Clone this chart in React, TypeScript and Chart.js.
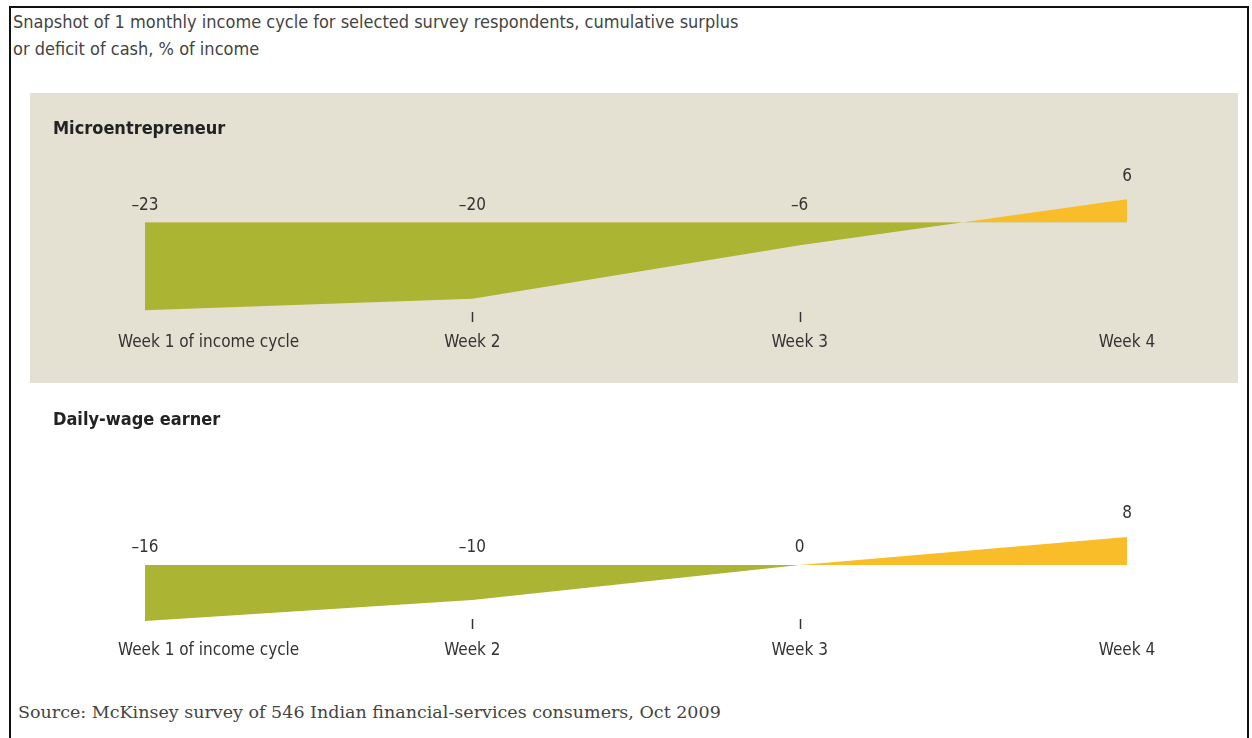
import React, { useEffect, useRef } from "react";
import { Chart, registerables } from "chart.js";

Chart.register(...registerables);

const weeks = ["Week 1 of income cycle", "Week 2", "Week 3", "Week 4"];
const microValues = [-23, -20, -6, 6];
const dailyValues = [-16, -10, 0, 8];
const tickedWeeks = [1, 2];

const surplusColor = "#fabd2a";
const deficitColor = "#acb434";
const panelColor = "#e4e0d2";
const NARROW = '"Liberation Sans Narrow", "DejaVu Sans Condensed", "Liberation Sans", sans-serif';

const annotPlugin = {
  id: "annot",
  afterDatasetsDraw(chart: any, _args: any, opts: any) {
    const ctx = chart.ctx as CanvasRenderingContext2D;
    const xs = chart.scales.x;
    const ys = chart.scales.y;
    const data = chart.data.datasets[0].data as number[];
    const zero = ys.getPixelForValue(0);
    ctx.save();
    ctx.fillStyle = "#333";
    ctx.font = `17px ${NARROW}`;
    ctx.textBaseline = "middle";
    ctx.textAlign = "center";
    data.forEach((v, i) => {
      const px = xs.getPixelForValue(i);
      const py = v > 0 ? ys.getPixelForValue(v) - opts.posGap : zero - opts.negGap;
      ctx.fillText(v < 0 ? "\u2013" + Math.abs(v) : String(v), px, py);
    });
    ctx.strokeStyle = "#333";
    ctx.lineWidth = 1.5;
    (opts.ticks as number[]).forEach((i) => {
      const px = Math.round(xs.getPixelForValue(i)) + 0.5;
      ctx.beginPath();
      ctx.moveTo(px, opts.tickY);
      ctx.lineTo(px, opts.tickY + 10);
      ctx.stroke();
    });
    (chart.data.labels as string[]).forEach((l, i) => {
      const px = xs.getPixelForValue(i);
      if (i === 0) {
        ctx.textAlign = "left";
        ctx.fillText(l, px - 27, opts.labelY);
      } else {
        ctx.textAlign = "center";
        ctx.fillText(l, px, opts.labelY);
      }
    });
    ctx.restore();
  },
};

function Panel(props: {
  values: number[];
  min: number;
  max: number;
  padTop: number;
  padBottom: number;
  tickY: number;
  labelY: number;
}) {
  const ref = useRef<HTMLCanvasElement>(null);
  useEffect(() => {
    if (!ref.current) return;
    const chart = new Chart(ref.current, {
      type: "line",
      data: {
        labels: weeks,
        datasets: [
          {
            data: props.values,
            fill: { target: "origin", above: surplusColor, below: deficitColor },
            borderWidth: 0,
            borderColor: "rgba(0,0,0,0)",
            pointRadius: 0,
            tension: 0,
          } as any,
        ],
      },
      options: {
        animation: false,
        responsive: false,
        events: [],
        layout: { padding: { left: 115, right: 111, top: props.padTop, bottom: props.padBottom } },
        scales: {
          x: { display: false, offset: false },
          y: { display: false, min: props.min, max: props.max },
        },
        plugins: {
          legend: { display: false },
          tooltip: { enabled: false },
          annot: { posGap: 23, negGap: 17, ticks: tickedWeeks, tickY: props.tickY, labelY: props.labelY },
        } as any,
      },
      plugins: [annotPlugin],
    });
    return () => chart.destroy();
  }, []);
  return <canvas ref={ref} width={1208} height={290} style={{ display: "block", width: 1208, height: 290 }} />;
}

export default function App() {
  return (
    <div style={{ position: "absolute", left: 0, top: 0, width: 1252, height: 738, background: "#fff", overflow: "hidden" }}>
      <div
        style={{
          position: "absolute",
          left: 9,
          top: 6,
          width: 1236,
          height: 760,
          borderLeft: "2px solid #111",
          borderTop: "2px solid #111",
          borderRight: "2px solid #111",
        }}
      />
      <div
        style={{
          position: "absolute",
          left: 13,
          top: 8,
          font: `18px ${NARROW}`,
          color: "#444",
          lineHeight: "27px",
          whiteSpace: "nowrap",
        }}
      >
        Snapshot of 1 monthly income cycle for selected survey respondents, cumulative surplus
        <br />
        or deficit of cash, % of income
      </div>
      <div style={{ position: "absolute", left: 30, top: 93, width: 1208, height: 290, background: panelColor }}>
        <Panel values={microValues} min={-30} max={10} padTop={91} padBottom={46} tickY={219} labelY={250} />
      </div>
      <div style={{ position: "absolute", left: 30, top: 390, width: 1208, height: 290 }}>
        <Panel values={dailyValues} min={-20} max={12} padTop={133} padBottom={45} tickY={229} labelY={261} />
      </div>
      <div style={{ position: "absolute", left: 53, top: 117, font: `bold 18px ${NARROW}`, color: "#222" }}>
        Microentrepreneur
      </div>
      <div style={{ position: "absolute", left: 53, top: 408, font: `bold 18px ${NARROW}`, color: "#222" }}>
        Daily-wage earner
      </div>
      <div
        style={{
          position: "absolute",
          left: 18,
          top: 702,
          font: '17.5px "DejaVu Serif", serif',
          color: "#444",
          whiteSpace: "nowrap",
        }}
      >
        Source: McKinsey survey of 546 Indian financial-services consumers, Oct 2009
      </div>
    </div>
  );
}
